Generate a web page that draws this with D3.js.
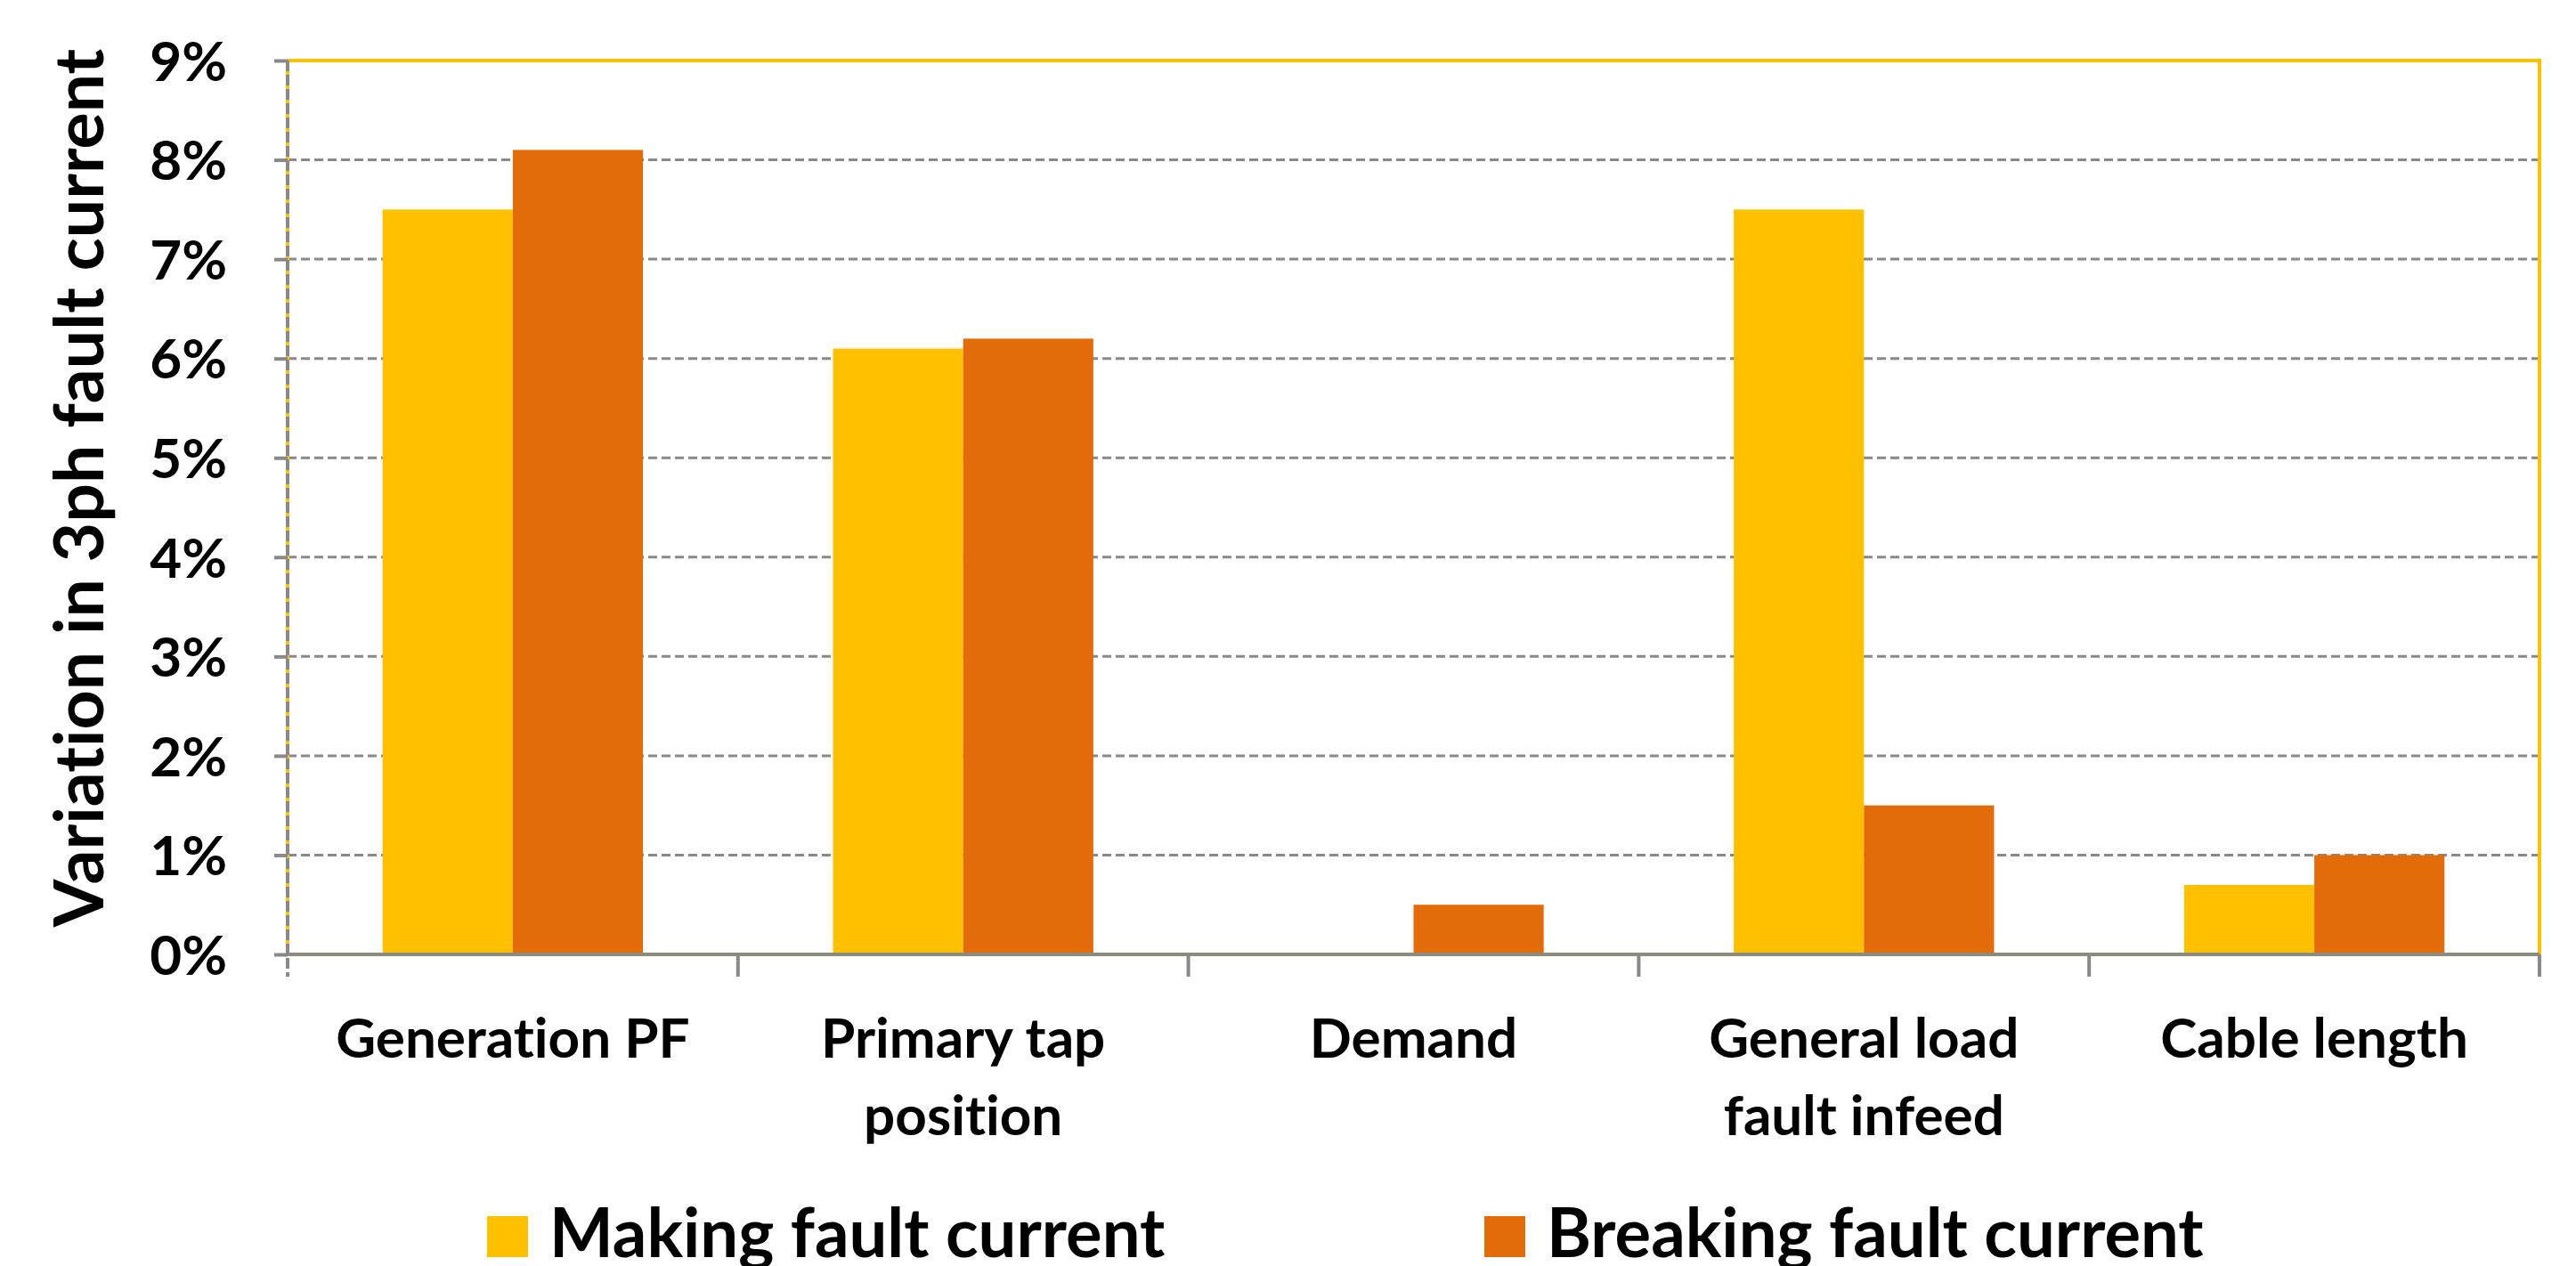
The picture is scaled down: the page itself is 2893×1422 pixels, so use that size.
<!DOCTYPE html>
<html>

<head>
    <meta charset="UTF-8">
    <style>
        body {
            margin: 0;
            background: #ffffff;
        }

        text {
            font-family: Lato, "Open Sans", sans-serif;
            font-weight: bold;
            fill: #000000;
            font-variant-ligatures: none;
        }
    </style>
    <script src="https://d3js.org/d3.v7.min.js"></script>
    <title>Variation in 3ph fault current</title>
</head>

<body>
    <svg id="chart" width="2893" height="1422"></svg>

    <script>
        // datos
        var categories = ["Generation PF", "Primary tap position", "Demand", "General load fault infeed", "Cable length"];
        var categoryLines = [["Generation PF"], ["Primary tap", "position"], ["Demand"], ["General load", "fault infeed"], ["Cable length"]];
        var seriesNames = ["Making fault current", "Breaking fault current"];
        var making = [7.5, 6.1, 0, 7.5, 0.7];
        var breaking = [8.1, 6.2, 0.5, 1.5, 1.0];
        var yTicks = [0, 1, 2, 3, 4, 5, 6, 7, 8, 9];
        var colors = ["#FFC000", "#E36C0A"];

        var svg = d3.select("#chart");
        var plotLeft = 323, plotRight = 2852, plotTop = 68, plotBottom = 1072;

        var x0 = d3.scaleBand().domain(categories).range([plotLeft, plotRight]).padding(0);
        var x1 = d3.scaleBand().domain(seriesNames).range([0, x0.bandwidth()]).paddingInner(0).paddingOuter(0.73);
        var y = d3.scaleLinear().domain([0, 9]).range([plotBottom, plotTop]);

        var rows = categories.map(function(c, i) {
            return { cat: c, values: [making[i], breaking[i]] };
        });

        // rejilla
        svg.append("g")
            .selectAll("line")
            .data(yTicks.slice(1))
            .enter()
            .append("line")
            .attr("x1", plotLeft).attr("x2", plotRight)
            .attr("y1", function(d) { return y(d); })
            .attr("y2", function(d) { return y(d); })
            .attr("stroke", "#898989")
            .attr("stroke-width", 3)
            .attr("stroke-dasharray", "10,5");

        // borde del area
        svg.append("line").attr("x1", plotLeft).attr("x2", plotRight).attr("y1", plotTop).attr("y2", plotTop)
            .attr("stroke", "#FFC000").attr("stroke-width", 4);
        svg.append("line").attr("x1", plotRight).attr("x2", plotRight).attr("y1", plotTop - 2).attr("y2", plotBottom)
            .attr("stroke", "#FFC000").attr("stroke-width", 4);
        svg.append("line").attr("x1", plotLeft).attr("x2", plotLeft).attr("y1", plotTop).attr("y2", plotBottom)
            .attr("stroke", "#FFC000").attr("stroke-width", 4);

        // barras
        var groups = svg.append("g")
            .selectAll("g")
            .data(rows)
            .enter()
            .append("g")
            .attr("transform", function(d) { return "translate(" + x0(d.cat) + ",0)"; });

        groups.selectAll("rect")
            .data(function(d) {
                return d.values.map(function(v, j) { return { name: seriesNames[j], value: v, idx: j }; });
            })
            .enter()
            .append("rect")
            .attr("x", function(d) { return x1(d.name); })
            .attr("y", function(d) { return y(d.value); })
            .attr("width", x1.bandwidth())
            .attr("height", function(d) { return plotBottom - y(d.value); })
            .attr("fill", function(d) { return colors[d.idx]; });

        // eje y
        var yAxis = svg.append("g")
            .attr("transform", "translate(" + plotLeft + ",0)")
            .call(d3.axisLeft(y).tickValues(yTicks).tickSize(23).tickFormat(function(d) { return d + "%"; }));
        yAxis.select(".domain").remove();
        yAxis.selectAll(".tick line")
            .attr("stroke", "#898989")
            .attr("stroke-width", 4)
            .attr("stroke-dasharray", "15,8");
        yAxis.selectAll(".tick text")
            .attr("x", -68)
            .attr("dy", "0.36em")
            .attr("font-size", "62px");

        svg.append("line").attr("x1", plotLeft).attr("x2", plotLeft).attr("y1", plotTop).attr("y2", plotBottom + 25)
            .attr("stroke", "#898989").attr("stroke-width", 4).attr("stroke-dasharray", "12,4");

        // eje x
        var xAxis = svg.append("g")
            .attr("transform", "translate(0," + plotBottom + ")")
            .call(d3.axisBottom(x0).tickSize(0).tickFormat(""));
        xAxis.select(".domain").remove();

        svg.append("line").attr("x1", plotLeft).attr("x2", plotRight).attr("y1", plotBottom).attr("y2", plotBottom)
            .attr("stroke", "#8E8A80").attr("stroke-width", 4);

        svg.append("g")
            .selectAll("line")
            .data(categories.slice(1).map(function(c) { return x0(c); }).concat([plotRight]))
            .enter()
            .append("line")
            .attr("x1", function(d) { return d; })
            .attr("x2", function(d) { return d; })
            .attr("y1", plotBottom).attr("y2", plotBottom + 25)
            .attr("stroke", "#898989")
            .attr("stroke-width", 4);

        xAxis.selectAll(".tick text").remove();
        xAxis.selectAll(".tick")
            .each(function(d, i) {
                var t = d3.select(this).append("text")
                    .attr("text-anchor", "middle")
                    .attr("font-size", "62px");
                categoryLines[i].forEach(function(line, k) {
                    t.append("tspan").attr("x", 0).attr("y", 116 + k * 87).text(line);
                });
            });

        // titulo eje y
        svg.append("text")
            .attr("transform", "translate(116," + 548 + ") rotate(-90)")
            .attr("text-anchor", "middle")
            .attr("font-size", "77px")
            .text("Variation in 3ph fault current");

        // leyenda
        var legendX = [547, 1667];
        var legend = svg.append("g")
            .selectAll("g")
            .data(seriesNames)
            .enter()
            .append("g")
            .attr("transform", function(d, i) { return "translate(" + legendX[i] + ",1366)"; });

        legend.append("rect")
            .attr("width", 46).attr("height", 46)
            .attr("fill", function(d, i) { return colors[i]; });

        legend.append("text")
            .attr("x", 70)
            .attr("y", 46)
            .attr("font-size", "76px")
            .text(function(d) { return d; });
    </script>
</body>

</html>
